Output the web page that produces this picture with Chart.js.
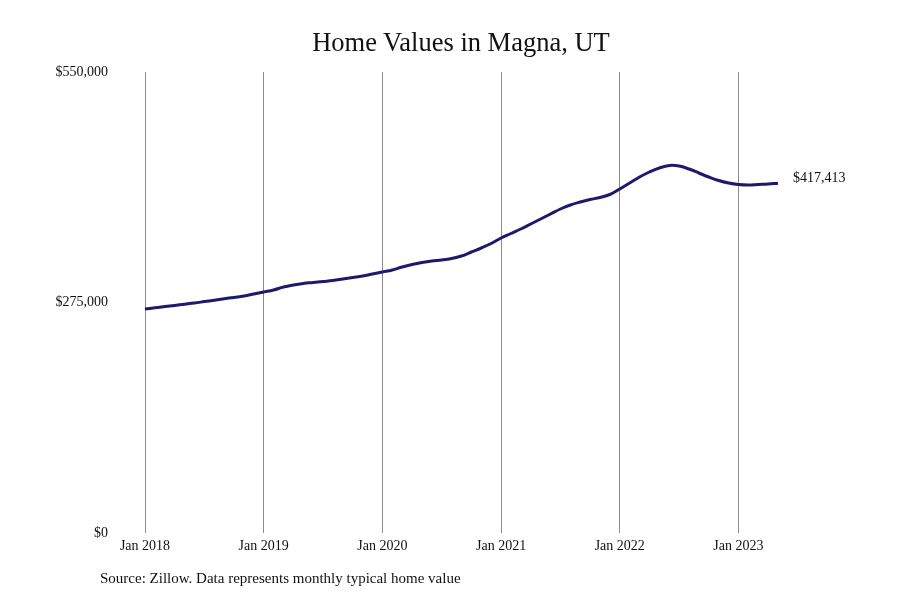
<!DOCTYPE html>
<html>
<head>
<meta charset="utf-8">
<title>Home Values in Magna, UT</title>
<script src="https://cdn.jsdelivr.net/npm/chart.js@4.4.1/dist/chart.umd.min.js"></script>
<style>
  html, body { margin: 0; padding: 0; background: #fff; }
  #wrap { position: relative; width: 900px; height: 600px; font-family: "Liberation Serif", "DejaVu Serif", serif; }
  #title { position: absolute; left: 0; width: 922px; top: 27px; text-align: center; font-size: 26.5px; color: #111; }
  #source { position: absolute; left: 100px; top: 570px; font-size: 15px; color: #111; }
  canvas { position: absolute; left: 0; top: 0; }
</style>
</head>
<body>
<div id="wrap">
  <canvas id="chart" width="900" height="600"></canvas>
  <div id="title">Home Values in Magna, UT</div>
  <div id="source">Source: Zillow. Data represents monthly typical home value</div>
</div>
<script>
// monthly months Jan 2018 .. May 2023
const years = [2018, 2019, 2020, 2021, 2022, 2023];
const monthNames = ["Jan", "Feb", "Mar", "Apr", "May", "Jun", "Jul", "Aug", "Sep", "Oct", "Nov", "Dec"];

const homeValues = [
  // 2018
  267250, 268670, 270100, 271540, 272970, 274400, 276070, 277740, 279410, 281080, 282750, 285140,
  // 2019
  287530, 289910, 293490, 295880, 297670, 298860, 300060, 301250, 303040, 304830, 306620, 309000,
  // 2020
  311390, 313770, 317350, 320330, 322720, 324510, 325700, 327490, 330480, 335250, 340020, 345390,
  // 2021
  351950, 357320, 362690, 368650, 374620, 380590, 386550, 391320, 394900, 397880, 400270, 403850,
  // 2022
  410410, 417570, 424730, 430690, 435460, 438440, 437850, 434270, 429500, 424730, 420550, 417570,
  // 2023
  415780, 415180, 415780, 416380, 417413
];

const yTicks = [0, 275000, 550000];

const labels = [];
years.forEach(y => monthNames.forEach(m => labels.push(m + " " + y)));
labels.length = homeValues.length;

const serif = "'Liberation Serif', 'DejaVu Serif', serif";

// label after the last point
const endLabel = {
  id: "endLabel",
  afterDatasetsDraw(chart) {
    const meta = chart.getDatasetMeta(0);
    const last = meta.data[meta.data.length - 1];
    const v = homeValues[homeValues.length - 1];
    const c = chart.ctx;
    c.save();
    c.font = "14px " + serif;
    c.fillStyle = "#111";
    c.textAlign = "left";
    c.textBaseline = "middle";
    c.fillText("$" + v.toLocaleString("en-US"), last.x + 15, last.y - 5);
    c.restore();
  }
};

new Chart(document.getElementById("chart").getContext("2d"), {
  type: "line",
  data: {
    labels: labels,
    datasets: [{
      data: homeValues,
      borderColor: "#1c1a6b",
      borderWidth: 3,
      pointRadius: 0,
      tension: 0.4,
      fill: false
    }]
  },
  options: {
    responsive: false,
    animation: false,
    layout: { padding: { left: 40, right: 122, top: 72, bottom: 37 } },
    plugins: { legend: { display: false }, tooltip: { enabled: false } },
    scales: {
      x: {
        type: "category",
        offset: false,
        border: { display: false },
        grid: {
          drawTicks: false,
          color: ctx => (ctx.index % 12 === 0 ? "#8c8c8c" : "rgba(0,0,0,0)"),
          lineWidth: 1
        },
        ticks: {
          autoSkip: false,
          maxRotation: 0,
          padding: 5,
          color: "#111",
          font: { family: serif, size: 14 },
          callback: (val, i) => (i % 12 === 0 ? labels[i] : "")
        },
        afterFit: s => { s.height = 30; }
      },
      y: {
        min: 0,
        max: 550000,
        border: { display: false },
        grid: { display: false, drawTicks: false },
        afterBuildTicks: s => { s.ticks = yTicks.map(v => ({ value: v })); },
        ticks: {
          padding: 37,
          color: "#111",
          font: { family: serif, size: 14 },
          callback: v => "$" + v.toLocaleString("en-US")
        },
        afterFit: s => { s.width = 105; }
      }
    }
  },
  plugins: [endLabel]
});
</script>
</body>
</html>
